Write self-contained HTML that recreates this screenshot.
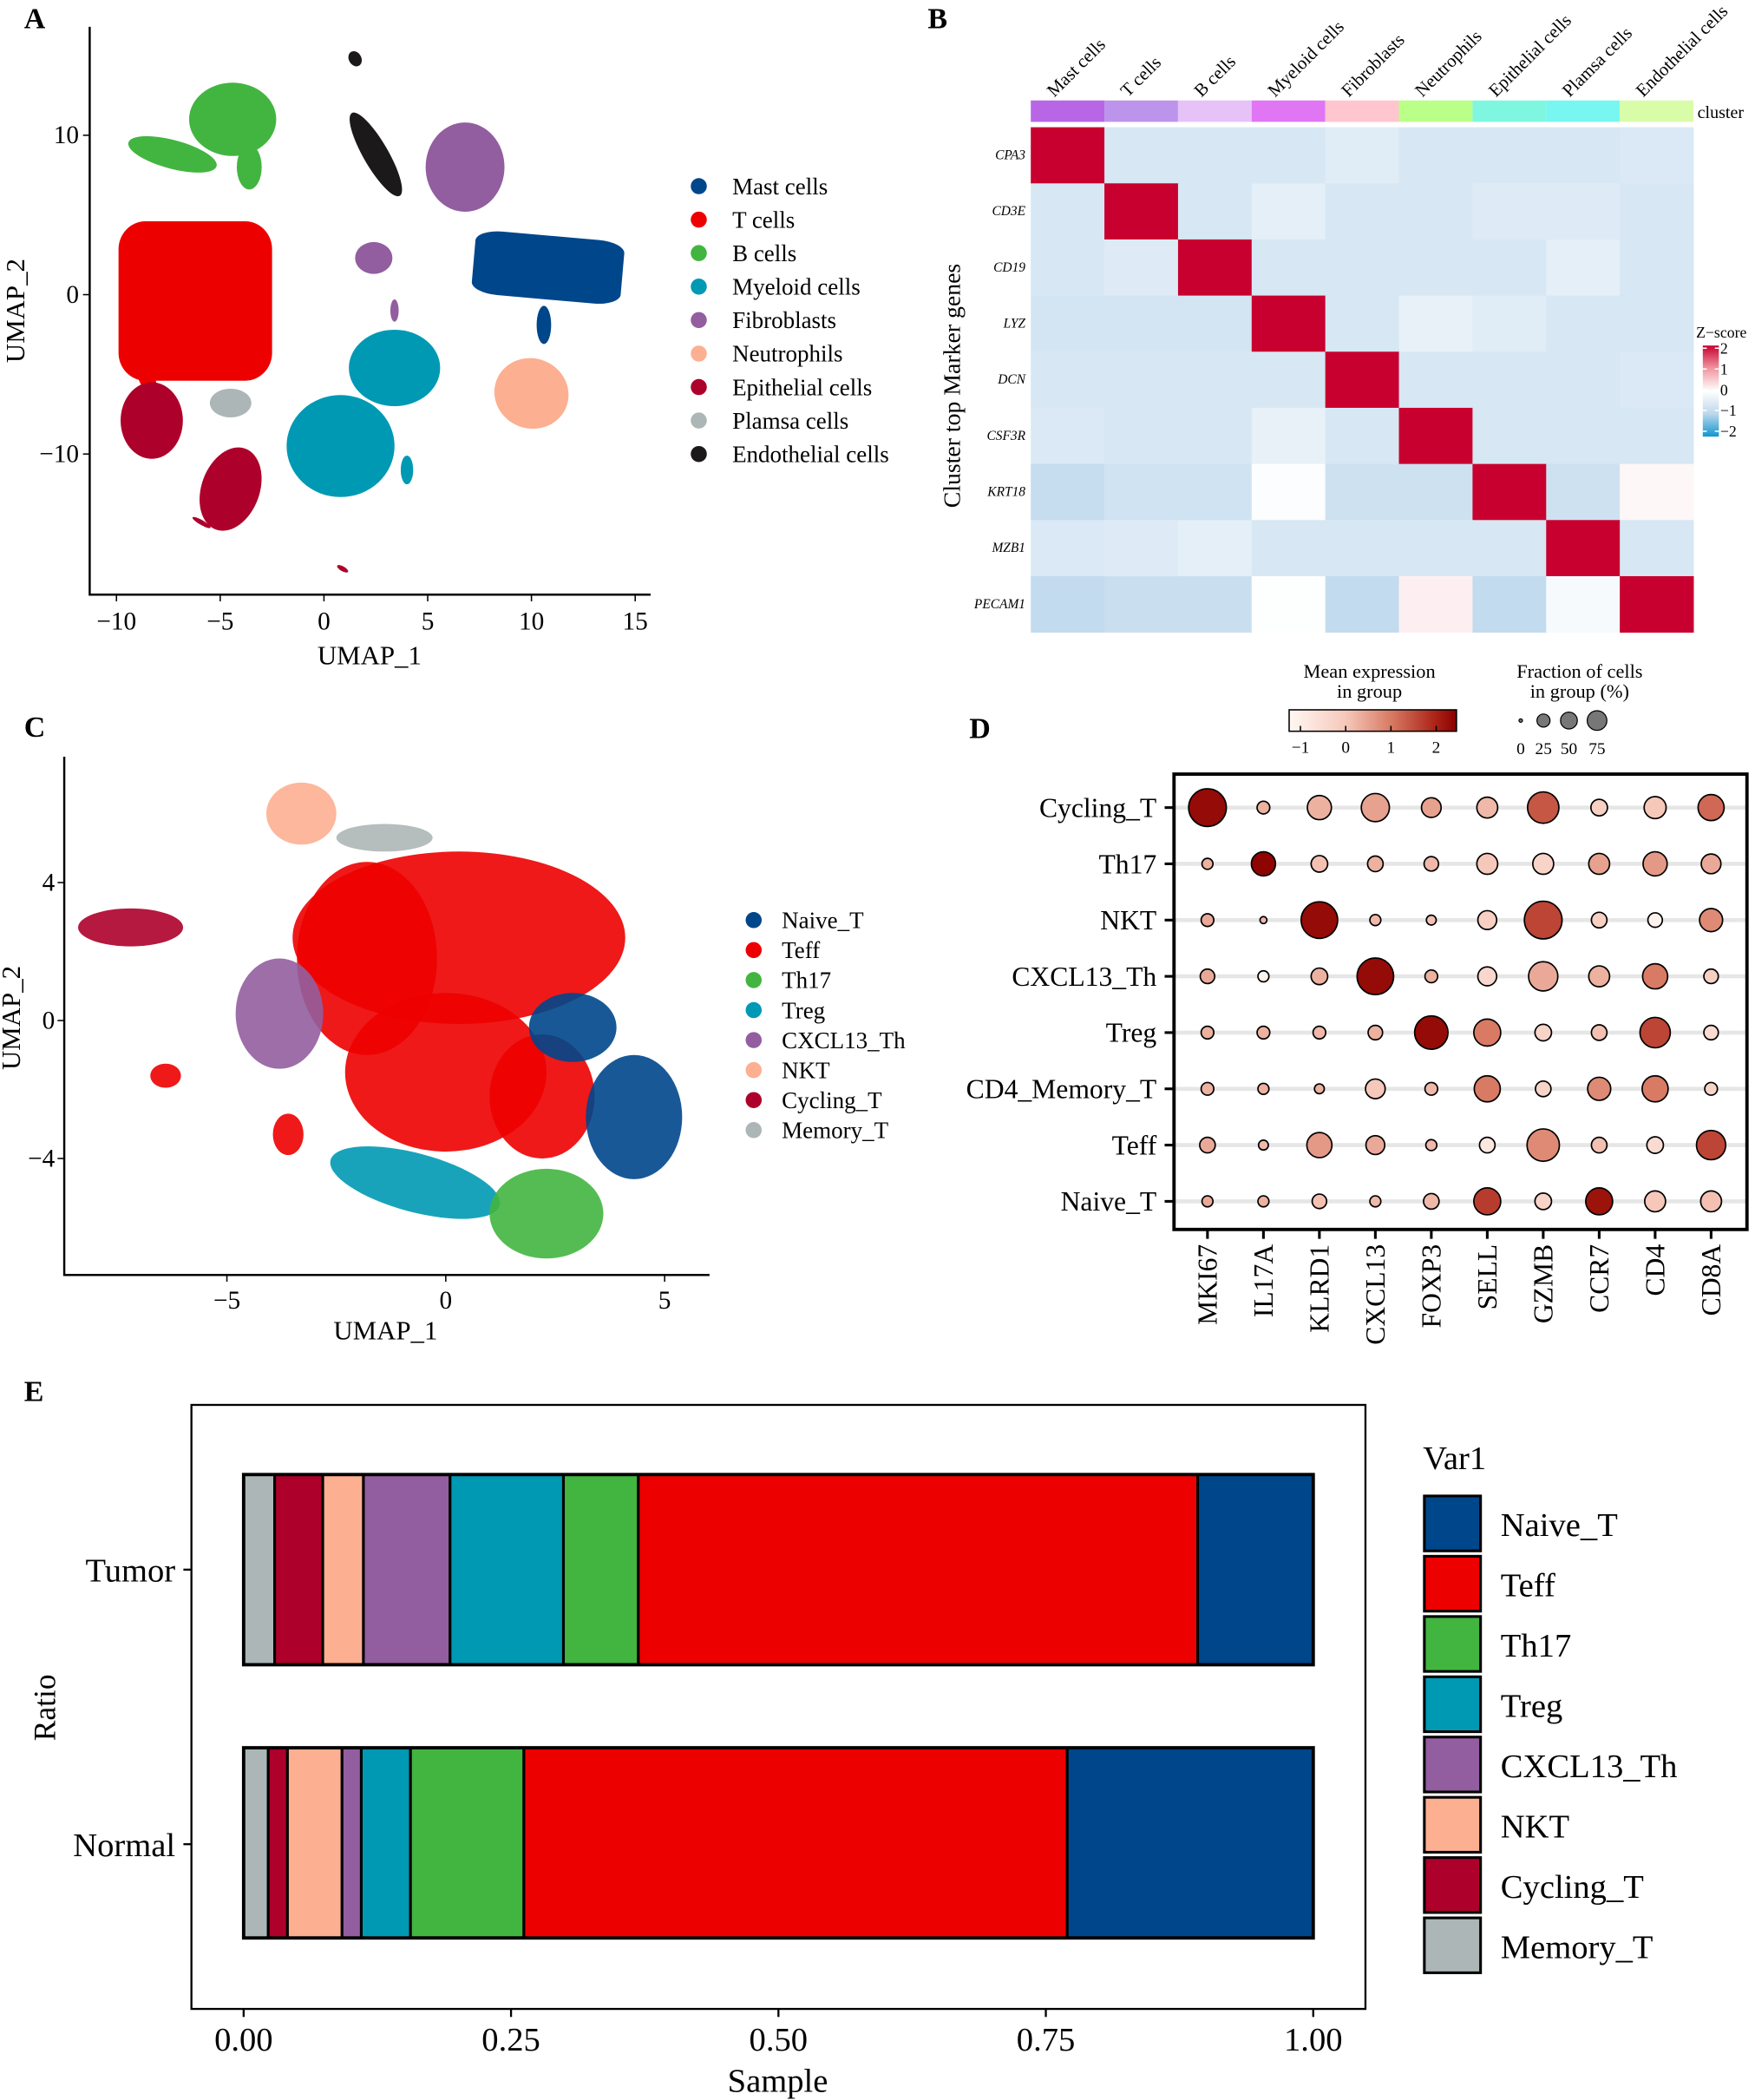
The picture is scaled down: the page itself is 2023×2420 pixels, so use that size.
<!DOCTYPE html>
<html><head><meta charset="utf-8"><style>
html,body{margin:0;padding:0;background:#fff;}
svg{display:block;font-family:"Liberation Serif",serif;}
</style></head><body>
<svg id="fig" width="2023" height="2420" viewBox="0 0 1311 1568" preserveAspectRatio="none" xmlns="http://www.w3.org/2000/svg">
<rect width="1311" height="1568" fill="#fff"/>
<g font-weight="bold" font-size="22">
<text x="18" y="21">A</text>
<text x="693" y="21">B</text>
<text x="18" y="550">C</text>
<text x="724" y="551">D</text>
<text x="18" y="1046">E</text>
</g>
<g id="pa"></g>
<g id="pb"></g>
<g id="pc"></g>
<g id="pd"></g>
<g id="pe"></g>
</svg>
<script>
const NS="http://www.w3.org/2000/svg";
function mk(p,tag,at,txt){const e=document.createElementNS(NS,tag);for(const k in at)e.setAttribute(k,at[k]);if(txt!==undefined)e.textContent=txt;p.appendChild(e);return e;}

// ===== Panel A data =====
const aTypes=["Mast cells","T cells","B cells","Myeloid cells","Fibroblasts","Neutrophils","Epithelial cells","Plamsa cells","Endothelial cells"];
const aColors=["#00468b","#ed0000","#42b540","#0099b4","#925e9f","#fdaf91","#ad002a","#adb6b6","#1b1919"];
const aXTicks=[-10,-5,0,5,10,15];
const aYTicks=[10,0,-10];
// cluster blobs: [typeIndex, cx, cy, rx, ry, rotationDeg, shape] in UMAP units (shape 1 = rounded box)
const aBlobs=[
[1,-6.2,-0.4,3.7,5.0,0,1],[1,-8.6,-5.0,0.4,1.5,20,0],
[2,-4.4,11.0,2.1,2.3,0,0],[2,-7.3,8.8,2.2,0.9,-15,0],[2,-3.6,8.0,0.6,1.4,0,0],
[8,2.5,8.8,0.6,3.0,30,0],[8,1.5,14.8,0.3,0.5,30,0],
[4,6.8,8.0,1.9,2.8,0,0],[4,2.4,2.3,0.9,1.0,0,0],[4,3.4,-1.0,0.2,0.7,0,0],
[0,10.8,1.7,3.6,2.0,-5,1],[0,10.6,-1.9,0.35,1.2,0,0],
[3,3.4,-4.6,2.2,2.4,0,0],[3,0.8,-9.5,2.6,3.2,0,0],[3,4.0,-11.0,0.3,0.9,0,0],
[5,10.0,-6.2,1.8,2.2,-20,0],
[6,-8.3,-7.9,1.5,2.4,0,0],[6,-4.5,-12.2,1.4,2.7,-20,0],[6,-5.9,-14.3,0.5,0.15,-30,0],[6,0.9,-17.2,0.3,0.15,-30,0],
[7,-4.5,-6.8,1.0,0.9,0,0]
];
// ===== Panel B data =====
const bCols=["Mast cells","T cells","B cells","Myeloid cells","Fibroblasts","Neutrophils","Epithelial cells","Plamsa cells","Endothelial cells"];
const bRows=["CPA3","CD3E","CD19","LYZ","DCN","CSF3R","KRT18","MZB1","PECAM1"];
const bAnnot=["#b866e6","#bd94ec","#e6c2f8","#e176f4","#ffc6cf","#baff88","#7ff7e0","#78f6f0","#d9fca8"];
const bZ0=[2,-0.6,-0.6,-0.6,-0.45,-0.6,-0.6,-0.6,-0.55];
const bZ1=[-0.6,2,-0.6,-0.4,-0.6,-0.6,-0.5,-0.5,-0.6];
const bZ2=[-0.6,-0.5,2,-0.6,-0.6,-0.6,-0.6,-0.4,-0.6];
const bZ3=[-0.65,-0.65,-0.65,2,-0.6,-0.35,-0.45,-0.6,-0.6];
const bZ4=[-0.6,-0.6,-0.6,-0.6,2,-0.6,-0.6,-0.6,-0.55];
const bZ5=[-0.55,-0.6,-0.6,-0.35,-0.6,2,-0.6,-0.6,-0.6];
const bZ6=[-0.85,-0.7,-0.7,-0.05,-0.75,-0.75,2,-0.75,0.08];
const bZ7=[-0.55,-0.5,-0.4,-0.6,-0.6,-0.6,-0.6,2,-0.6];
const bZ8=[-0.9,-0.8,-0.8,-0.03,-0.9,0.15,-0.9,-0.12,2];
const bZ=[bZ0,bZ1,bZ2,bZ3,bZ4,bZ5,bZ6,bZ7,bZ8];
const bLegTicks=[2,1,0,-1,-2];
// ===== Panel C data =====
const cTypes=["Naive_T","Teff","Th17","Treg","CXCL13_Th","NKT","Cycling_T","Memory_T"];
const cColors=["#00468b","#ed0000","#42b540","#0099b4","#925e9f","#fdaf91","#ad002a","#adb6b6"];
const cXTicks=[-5,0,5];
const cYTicks=[4,0,-4];
const cBlobs=[
[1,0.3,2.4,3.8,2.5,0],[1,-1.8,1.8,1.6,2.8,0],[1,0.0,-1.5,2.3,2.3,0],[1,2.2,-2.2,1.2,1.8,0],
[1,-6.4,-1.6,0.35,0.35,0],[1,-3.6,-3.3,0.35,0.6,0],
[5,-3.3,6.0,0.8,0.9,0],[7,-1.4,5.3,1.1,0.4,0],[6,-7.2,2.7,1.2,0.55,0],
[4,-3.8,0.2,1.0,1.6,0],
[0,2.9,-0.2,1.0,1.0,0],[0,4.3,-2.8,1.1,1.8,0],
[3,-0.7,-4.7,2.0,0.85,-15],[2,2.3,-5.6,1.3,1.3,0]
];
// ===== Panel D data =====
const dGenes=["MKI67","IL17A","KLRD1","CXCL13","FOXP3","SELL","GZMB","CCR7","CD4","CD8A"];
const dGroups=["Cycling_T","Th17","NKT","CXCL13_Th","Treg","CD4_Memory_T","Teff","Naive_T"];
const dFrac0=[88,10,36,49,24,27,61,17,30,42];
const dFrac1=[7.5,36,17,15,13,27,27,27,36,24];
const dFrac2=[10,3,83,7.5,6,22,88,15,13,33];
const dFrac3=[13,7.5,17,83,10,22,53,27,39,13];
const dFrac4=[10,10,10,13,69,45,17,15,57,13];
const dFrac5=[10,7.5,6,24,10,42,15,33,42,10];
const dFrac6=[15,6,39,22,7.5,15,65,15,17,53];
const dFrac7=[7.5,7.5,13,7.5,15,45,17,45,27,27];
const dExp0=[2.3,0.3,0.3,0.5,0.5,0.2,1.4,-0.2,0,1.2];
const dExp1=[0.3,2.4,0.1,0.3,0.2,0,-0.3,0.5,0.6,0.4];
const dExp2=[0.4,0.2,2.3,0.2,0.1,-0.2,1.6,-0.2,-1.1,0.8];
const dExp3=[0.4,-1.1,0.3,2.3,0.3,-0.4,0.4,0.3,1.0,-0.2];
const dExp4=[0.3,0.3,0.2,0.3,2.3,1.0,-0.3,0.1,1.6,-0.5];
const dExp5=[0.3,0.3,0.3,0,0.2,1.0,-0.3,0.8,1.0,-0.3];
const dExp6=[0.4,0.2,0.6,0.4,0.2,-0.8,0.8,0.1,-0.5,1.6];
const dExp7=[0.4,0.3,0.1,0.2,0.2,1.7,-0.3,2.2,0,0.1];
const dFrac=[dFrac0,dFrac1,dFrac2,dFrac3,dFrac4,dFrac5,dFrac6,dFrac7];
const dExp=[dExp0,dExp1,dExp2,dExp3,dExp4,dExp5,dExp6,dExp7];
const dExpTicks=[-1,0,1,2];
const dSizeTicks=[0,25,50,75];
// ===== Panel E data =====
const eSamples=["Tumor","Normal"];
const eStackOrder=["Memory_T","Cycling_T","NKT","CXCL13_Th","Treg","Th17","Teff","Naive_T"];
const eTumor=[0.029,0.045,0.038,0.081,0.106,0.070,0.523,0.108];
const eNormal=[0.023,0.018,0.051,0.018,0.046,0.106,0.508,0.230];
const eLegend=["Naive_T","Teff","Th17","Treg","CXCL13_Th","NKT","Cycling_T","Memory_T"];
const eXTicks=[0,0.25,0.5,0.75,1.0];
const eXTickLabels=["0.00","0.25","0.50","0.75","1.00"];
const eColorMap={Naive_T:"#00468b",Teff:"#ed0000",Th17:"#42b540",Treg:"#0099b4",CXCL13_Th:"#925e9f",NKT:"#fdaf91",Cycling_T:"#ad002a",Memory_T:"#adb6b6"};

// ===== Draw A =====
(function(){
const g=document.getElementById('pa');
const x=v=>242+v*15.5, y=v=>220-v*11.9;
aBlobs.forEach(b=>{
 const cx=x(b[1]),cy=y(b[2]),rx=b[3]*15.5,ry=b[4]*11.9;
 let e;
 if(b[6]===1){e=mk(g,'rect',{x:cx-rx,y:cy-ry,width:2*rx,height:2*ry,rx:rx*0.35,ry:ry*0.35,fill:aColors[b[0]],transform:`rotate(${-b[5]} ${cx} ${cy})`});}
 else{e=mk(g,'ellipse',{cx:cx,cy:cy,rx:rx,ry:ry,fill:aColors[b[0]],transform:`rotate(${-b[5]} ${cx} ${cy})`});}
 
 
});
const ax=mk(g,'path',{d:`M67 20 V444 H486`,stroke:'#000','stroke-width':1.6,fill:'none'});

aXTicks.forEach(t=>{mk(g,'line',{x1:x(t),x2:x(t),y1:444,y2:449,stroke:'#000'});
 const tx=mk(g,'text',{x:x(t),y:470,'font-size':19,'text-anchor':'middle'},t<0?'\u2212'+(-t):t);
 });
aYTicks.forEach(t=>{mk(g,'line',{x1:62,x2:67,y1:y(t),y2:y(t),stroke:'#000'});
 const tx=mk(g,'text',{x:59,y:y(t)+6,'font-size':19,'text-anchor':'end'},t<0?'\u2212'+(-t):t);
 });
let t=mk(g,'text',{x:276,y:496,'font-size':20,'text-anchor':'middle'},'UMAP_1');
t=mk(g,'text',{x:0,y:0,'font-size':20,'text-anchor':'middle',transform:'translate(18,232) rotate(-90)'},'UMAP_2');
aTypes.forEach((n,i)=>{const yy=139+i*25;
 const c=mk(g,'circle',{cx:522,cy:yy,r:6,fill:aColors[i]});
 const l=mk(g,'text',{x:547,y:yy+6,'font-size':17.5},n);});
})();

// ===== Draw B =====
function lerp(a,b,t){return a.map((v,i)=>Math.round(v+(b[i]-v)*t));}
function zcol(z){const stops=[[-2,[16,150,208]],[-1,[188,215,236]],[0,[255,255,255]],[1,[240,150,160]],[2,[200,0,47]]];
 z=Math.max(-2,Math.min(2,z));for(let i=0;i<4;i++){if(z<=stops[i+1][0]){const c=lerp(stops[i][1],stops[i+1][1],(z-stops[i][0]));return `rgb(${c})`;}}return 'rgb(200,0,47)';}
(function(){
const g=document.getElementById('pb');
const cw=55, x0=770, y0=95, rh=41.9;
bCols.forEach((c,j)=>{
 const r=mk(g,'rect',{x:x0+j*cw,y:75,width:cw,height:16,fill:bAnnot[j]});
 const cx=x0+j*cw+cw/2+2;
 const t=mk(g,'text',{x:0,y:0,'font-size':13.5,transform:`translate(${cx-12},73) rotate(-45)`},c);
});
let t=mk(g,'text',{x:1268,y:88,'font-size':13},'cluster');
bRows.forEach((rn,i)=>{
 bZ[i].forEach((z,j)=>{const r=mk(g,'rect',{x:x0+j*cw,y:y0+i*rh,width:cw+0.3,height:rh+0.3,fill:zcol(z)});
  });
 const l=mk(g,'text',{x:766,y:y0+i*rh+rh/2+3,'font-size':10,'font-style':'italic','text-anchor':'end'},rn);
 
});
t=mk(g,'text',{x:0,y:0,'font-size':18,'text-anchor':'middle',transform:'translate(717,288) rotate(-90)'},'Cluster top Marker genes');
t=mk(g,'text',{x:1267,y:252,'font-size':11.5},'Z\u2212score');
const def=mk(g,'defs',{});const lg=mk(def,'linearGradient',{id:'zg',x1:0,y1:0,x2:0,y2:1});
[2,1,0,-1,-2].forEach((z,k)=>mk(lg,'stop',{offset:(k*25)+'%','stop-color':zcol(z)}));
const bar=mk(g,'rect',{x:1272,y:258,width:12,height:68,fill:'url(#zg)'});
bLegTicks.forEach((v,k)=>{const yy=260+k*15.5;mk(g,'line',{x1:1272,x2:1275,y1:yy,y2:yy,stroke:'#fff'});mk(g,'line',{x1:1281,x2:1284,y1:yy,y2:yy,stroke:'#fff'});
 const tl=mk(g,'text',{x:1285,y:yy+4,'font-size':11.5},v<0?'\u2212'+(-v):v);});
})();

// ===== Draw C =====
(function(){
const g=document.getElementById('pc');
const x=v=>333+v*32.7, y=v=>762-v*25.75;
cBlobs.forEach(b=>{
 const e=mk(g,'ellipse',{cx:x(b[1]),cy:y(b[2]),rx:b[3]*32.7,ry:b[4]*25.75,fill:cColors[b[0]],'fill-opacity':0.9,transform:`rotate(${-b[5]} ${x(b[1])} ${y(b[2])})`});
 
 
});
const ax=mk(g,'path',{d:`M48 565 V952 H530`,stroke:'#000','stroke-width':1.6,fill:'none'});
cXTicks.forEach(t=>{mk(g,'line',{x1:x(t),x2:x(t),y1:952,y2:957,stroke:'#000'});
 const tx=mk(g,'text',{x:x(t),y:977,'font-size':19,'text-anchor':'middle'},t<0?'\u2212'+(-t):t);});
cYTicks.forEach(t=>{mk(g,'line',{x1:43,x2:48,y1:y(t),y2:y(t),stroke:'#000'});
 const tx=mk(g,'text',{x:41,y:y(t)+6,'font-size':19,'text-anchor':'end'},t<0?'\u2212'+(-t):t);});
let t=mk(g,'text',{x:288,y:1000,'font-size':20,'text-anchor':'middle'},'UMAP_1');
t=mk(g,'text',{x:0,y:0,'font-size':20,'text-anchor':'middle',transform:'translate(15,760) rotate(-90)'},'UMAP_2');
cTypes.forEach((n,i)=>{const yy=687+i*22.4;
 const c=mk(g,'circle',{cx:563,cy:yy,r:6,fill:cColors[i]});
 const l=mk(g,'text',{x:584,y:yy+6,'font-size':17.5},n);});
})();

// ===== Draw D =====
function ecol(v){const stops=[[-1.25,[255,248,244]],[0,[246,200,186]],[1,[216,122,100]],[2,[170,34,22]],[2.45,[139,0,0]]];
 v=Math.max(-1.25,Math.min(2.45,v));for(let i=0;i<4;i++){if(v<=stops[i+1][0]){const c=lerp(stops[i][1],stops[i+1][1],(v-stops[i][0])/(stops[i+1][0]-stops[i][0]));return `rgb(${c})`;}}return 'rgb(139,0,0)';}
(function(){
const g=document.getElementById('pd');
const gx=j=>902+j*41.8, gy=i=>603+i*42, rs=f=>Math.sqrt(f/100)*15;
dGroups.forEach((n,i)=>{
 mk(g,'line',{x1:877,x2:1305,y1:gy(i),y2:gy(i),stroke:'#e6e6e6','stroke-width':3});
 mk(g,'line',{x1:870,x2:877,y1:gy(i),y2:gy(i),stroke:'#000','stroke-width':2});
 const l=mk(g,'text',{x:864,y:gy(i)+7,'font-size':20.5,'text-anchor':'end'},n);
});
const box=mk(g,'rect',{x:877,y:578,width:428,height:340,fill:'none',stroke:'#000','stroke-width':2.5});
dGenes.forEach((gn,j)=>{
 mk(g,'line',{x1:gx(j),x2:gx(j),y1:918,y2:925,stroke:'#000','stroke-width':2});
 const l=mk(g,'text',{x:0,y:0,'font-size':20.5,'text-anchor':'end',transform:`translate(${gx(j)+7},929) rotate(-90)`},gn);
});
dGroups.forEach((n,i)=>dGenes.forEach((gn,j)=>{
 const c=mk(g,'circle',{cx:gx(j),cy:gy(i),r:rs(dFrac[i][j]),fill:ecol(dExp[i][j]),stroke:'#000','stroke-width':1.1});
 
}));
let t=mk(g,'text',{x:1023,y:506,'font-size':14.5,'text-anchor':'middle'},'Mean expression');
mk(g,'text',{x:1023,y:521,'font-size':14.5,'text-anchor':'middle'},'in group');
const def=mk(g,'defs',{});const lg=mk(def,'linearGradient',{id:'eg',x1:0,y1:0,x2:1,y2:0});
[-1.25,0,1,2,2.45].forEach(v=>mk(lg,'stop',{offset:((v+1.25)/3.7*100)+'%','stop-color':ecol(v)}));
const bar=mk(g,'rect',{x:963,y:530,width:125,height:16,fill:'url(#eg)',stroke:'#000','stroke-width':1});
dExpTicks.forEach(v=>{const xx=963+(v+1.25)*33.8;
 mk(g,'line',{x1:xx,x2:xx,y1:542,y2:546,stroke:'#000'});
 const tl=mk(g,'text',{x:xx,y:562,'font-size':12.5,'text-anchor':'middle'},v<0?'\u2212'+(-v):v);});
t=mk(g,'text',{x:1180,y:506,'font-size':14.5,'text-anchor':'middle'},'Fraction of cells');
mk(g,'text',{x:1180,y:521,'font-size':14.5,'text-anchor':'middle'},'in group (%)');
const sx=[1136,1153,1172,1193];
dSizeTicks.forEach((v,k)=>{const r=Math.max(1.3,rs(v)*0.45+(v>0?1.5:0));
 const c=mk(g,'circle',{cx:sx[k],cy:538,r:r,fill:'#777',stroke:'#000','stroke-width':0.8});
 const tl=mk(g,'text',{x:sx[k],y:563,'font-size':12.5,'text-anchor':'middle'},v);});
})();

// ===== Draw E =====
(function(){
const g=document.getElementById('pe');
const x=v=>182+v*799;
const frame=mk(g,'rect',{x:143,y:1049,width:877,height:451,fill:'none',stroke:'#000','stroke-width':1.5});
const rows=[eTumor,eNormal], ys=[1101,1305], bh=142, labY=[1172,1377];
rows.forEach((vals,k)=>{
 let acc=0;
 vals.forEach((v,i)=>{const r=mk(g,'rect',{x:x(acc),y:ys[k],width:v*799,height:bh,fill:eColorMap[eStackOrder[i]],stroke:'#000','stroke-width':2});
  acc+=v;});
 mk(g,'rect',{x:x(0),y:ys[k],width:799,height:bh,fill:'none',stroke:'#000','stroke-width':2.5});
 mk(g,'line',{x1:137,x2:143,y1:labY[k],y2:labY[k],stroke:'#000','stroke-width':1.5});
 const l=mk(g,'text',{x:131,y:labY[k]+9,'font-size':25,'text-anchor':'end'},eSamples[k]);
});
eXTicks.forEach((v,i)=>{mk(g,'line',{x1:x(v),x2:x(v),y1:1500,y2:1506,stroke:'#000','stroke-width':1.5});
 const l=mk(g,'text',{x:x(v),y:1531,'font-size':25,'text-anchor':'middle'},eXTickLabels[i]);});
let t=mk(g,'text',{x:581,y:1562,'font-size':25,'text-anchor':'middle'},'Sample');
t=mk(g,'text',{x:0,y:0,'font-size':23,'text-anchor':'middle',transform:'translate(41,1275) rotate(-90)'},'Ratio');
t=mk(g,'text',{x:1063,y:1097,'font-size':25},'Var1');
eLegend.forEach((n,i)=>{const yy=1117+i*45;
 const r=mk(g,'rect',{x:1064,y:yy,width:42,height:41,fill:eColorMap[n],stroke:'#000','stroke-width':2});
 const l=mk(g,'text',{x:1121,y:yy+30,'font-size':25},n);});
})();
</script>
</body></html>
